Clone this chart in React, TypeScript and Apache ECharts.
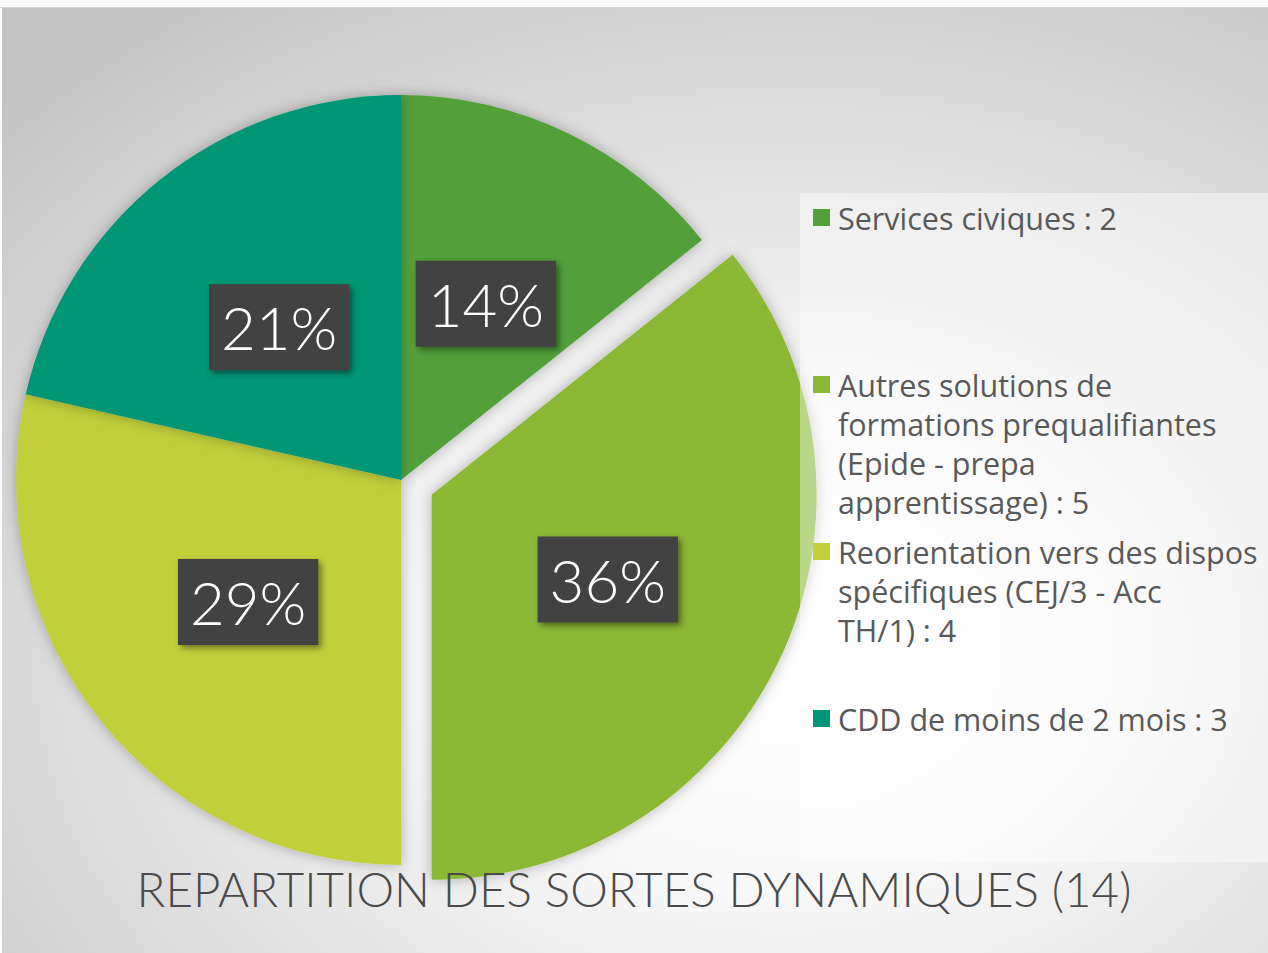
import React, { useEffect, useRef } from "react";
import * as echarts from "echarts";

const categories = [
  "Services civiques",
  "Autres solutions de formations prequalifiantes (Epide - prepa apprentissage)",
  "Reorientation vers des dispos spécifiques (CEJ/3 - Acc TH/1)",
  "CDD de moins de 2 mois",
];
const values = [2, 5, 4, 3];
const colors = ["#53a03b", "#8bb834", "#c1cf3b", "#029676"];
const legendLines = [
  ["Services civiques"],
  ["Autres solutions de", "formations prequalifiantes", "(Epide - prepa", "apprentissage)"],
  ["Reorientation vers des dispos", "spécifiques (CEJ/3 - Acc", "TH/1)"],
  ["CDD de moins de 2 mois"],
];
const explodedIndex = 1;
const titleText = "REPARTITION DES SORTES DYNAMIQUES (14)";

const FONT = "Lato, 'Open Sans', sans-serif";
const LEGEND_FONT = "'Open Sans', Lato, sans-serif";

export default function App() {
  const ref = useRef<HTMLDivElement>(null);
  useEffect(() => {
    if (!ref.current) return;
    const chart = echarts.init(ref.current, undefined, { renderer: "svg" });

    const rich: any = {
      g: { width: 8, height: 17 },
      ind: { width: 25, height: 17 },
      t: { fontSize: 30.5, lineHeight: 39, color: "#595959", fontFamily: LEGEND_FONT },
    };
    colors.forEach((c, i) => {
      rich["sq" + i] = { backgroundColor: c, width: 17, height: 17 };
    });

    const legends = categories.map((name, i) => ({
      data: [name],
      orient: "vertical",
      left: 808,
      top: 202 + i * 167,
      padding: 0,
      icon: "none",
      itemWidth: 0,
      itemHeight: 17,
      selectedMode: false,
      z: 10,
      formatter: (n: string) => {
        const idx = categories.indexOf(n);
        const lines = legendLines[idx].slice();
        lines[lines.length - 1] += ` : ${values[idx]}`;
        return lines
          .map((l, k) => (k === 0 ? `{sq${idx}| }{g| }` : `{ind| }`) + `{t|${l}}`)
          .join("\n");
      },
      textStyle: { rich, fontFamily: LEGEND_FONT },
    }));

    chart.setOption({
      animation: false,
      title: {
        text: titleText,
        left: "center",
        top: 860,
        padding: [0, 0, 0, 24],
        textStyle: {
          fontSize: 47.5,
          fontWeight: 300,
          fontFamily: FONT,
          color: "#4a4a4a",
          lineHeight: 56,
        },
      },
      graphic: [
        {
          type: "rect",
          z: -10,
          silent: true,
          shape: { x: 0, y: 0, width: 1268, height: 953 },
          style: { fill: "#fbfbfb" },
        },
        {
          type: "rect",
          z: -9,
          silent: true,
          shape: { x: 2, y: 8, width: 1266, height: 945 },
          style: {
            fill: new echarts.graphic.RadialGradient(0.62, 0.68, 0.85, [
              { offset: 0, color: "#ffffff" },
              { offset: 0.3, color: "#f8f8f8" },
              { offset: 1, color: "#c4c4c4" },
            ]),
          },
        },
        {
          type: "line",
          z: -8,
          silent: true,
          shape: { x1: 0, y1: 7.5, x2: 1268, y2: 7.5 },
          style: { stroke: "#d0d0d0", lineWidth: 1 },
        },
        {
          type: "rect",
          z: 3,
          silent: true,
          shape: { x: 800, y: 193, width: 468, height: 669 },
          style: { fill: "rgba(255,255,255,0.42)" },
        },
      ],
      legend: legends,
      series: [
        {
          type: "pie",
          z: 2,
          center: [401, 480],
          radius: [0, 385],
          startAngle: 90,
          clockwise: true,
          selectedMode: "single",
          selectedOffset: 34,
          percentPrecision: 0,
          avoidLabelOverlap: false,
          data: categories.map((n, i) => ({
            name: n,
            value: values[i],
            selected: i === explodedIndex,
            itemStyle: { color: colors[i] },
          })),
          itemStyle: {
            shadowBlur: 14,
            shadowColor: "rgba(0,0,0,0.28)",
          },
          label: {
            show: true,
            position: "inside",
            formatter: "{d}%",
            fontSize: 60,
            fontWeight: 300,
            fontFamily: FONT,
            color: "#ffffff",
            backgroundColor: "#424242",
            padding: [12, 12, 12, 12],
            lineHeight: 62,
            shadowBlur: 6,
            shadowOffsetX: 3,
            shadowOffsetY: 3,
            shadowColor: "rgba(0,0,0,0.45)",
          },
          labelLine: { show: false },
          emphasis: { disabled: true },
        },
      ],
    });
    return () => chart.dispose();
  }, []);
  return (
    <div
      ref={ref}
      style={{ position: "absolute", left: 0, top: 0, width: 1268, height: 953 }}
    />
  );
}
